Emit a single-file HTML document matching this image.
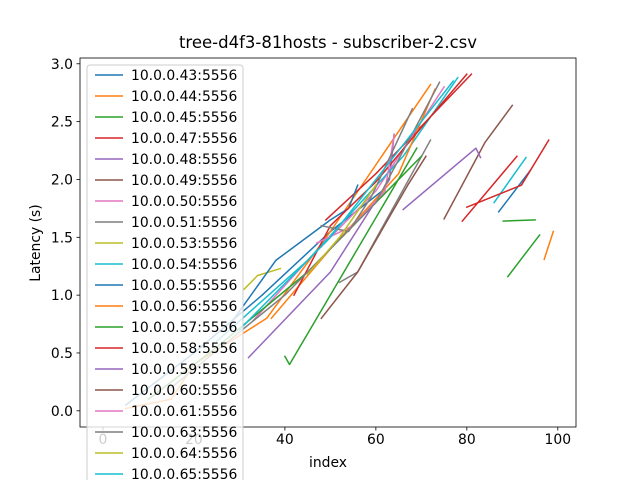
<!DOCTYPE html>
<html><head><meta charset="utf-8"><style>
body{margin:0;background:#fff;}
svg text{font-family:"DejaVu Sans","Liberation Sans",sans-serif;}
</style></head><body>
<svg id="chart" width="640" height="480" viewBox="0 0 640 480" xmlns="http://www.w3.org/2000/svg">
<rect x="0" y="0" width="640" height="480" fill="#fff"/>
<text x="328" y="48" font-size="16.5" text-anchor="middle">tree-d4f3-81hosts - subscriber-2.csv</text>
<g id="plot"></g>
<g id="axes"></g>
<g id="legend"></g>
</svg>
<script>
const seriesNames=["10.0.0.43:5556","10.0.0.44:5556","10.0.0.45:5556","10.0.0.47:5556","10.0.0.48:5556","10.0.0.49:5556","10.0.0.50:5556","10.0.0.51:5556","10.0.0.53:5556","10.0.0.54:5556","10.0.0.55:5556","10.0.0.56:5556","10.0.0.57:5556","10.0.0.58:5556","10.0.0.59:5556","10.0.0.60:5556","10.0.0.61:5556","10.0.0.63:5556","10.0.0.64:5556","10.0.0.65:5556"];
const colors=["#1f77b4","#ff7f0e","#2ca02c","#d62728","#9467bd","#8c564b","#e377c2","#7f7f7f","#bcbd22","#17becf"];
const xTicks=[0,20,40,60,80,100];
const yTicks=[0.0,0.5,1.0,1.5,2.0,2.5,3.0];
const sx=[
 [[5,20,35,50,62],[87,94]],
 [[5,15,20,36,50,72],[97,99]],
 [[40,41,69],[89,96],[88,95]],
 [[49,60,81],[79,91]],
 [[32,50,63,64]],
 [[75,84,90]],
 [[33,45,60,75]],
 [[52,56,72]],
 [[31,34,39]],
 [[25,45,66,78],[86,93]],
 [[28,38,50,54,56]],
 [[37,50,65,73]],
 [[10,25,45,70]],
 [[42,50,60,70,80],[80,92,98]],
 [[66,82,83]],
 [[48,56,67,71]],
 [[47,55,62,64]],
 [[48,54,59,68],[15,40,60,74]],
 [[45,52,60]],
 [[30,50,77]]
];
const sy=[
 [[0.05,0.5,1.0,1.55,1.92],[1.72,2.08]],
 [[0.02,0.1,0.4,0.8,1.55,2.82],[1.31,1.55]],
 [[0.47,0.40,2.27],[1.16,1.52],[1.64,1.65]],
 [[1.65,2.05,2.91],[1.64,2.2]],
 [[0.46,1.2,2.0,2.39]],
 [[1.66,2.32,2.64]],
 [[0.78,1.3,1.9,2.8]],
 [[1.11,1.2,2.34]],
 [[1.05,1.17,1.23]],
 [[0.6,1.3,2.2,2.88],[1.8,2.19]],
 [[0.75,1.3,1.65,1.75,1.95]],
 [[0.8,1.4,2.05,2.78]],
 [[0.1,0.55,1.2,2.2]],
 [[1.0,1.6,1.98,2.45,2.91],[1.76,1.95,2.34]],
 [[1.74,2.27,2.19]],
 [[0.8,1.2,1.95,2.2]],
 [[1.45,1.6,1.9,2.38]],
 [[1.6,1.55,1.85,2.61],[0.2,1.0,1.8,2.84]],
 [[1.18,1.5,1.95]],
 [[0.7,1.5,2.85]]
];
const X0=80,X1=576,Y0=58,Y1=427;
const xMin=-5.05,xMax=104,yMin=-0.14,yMax=3.05;
function xs(i){return X0+(i-xMin)/(xMax-xMin)*(X1-X0);}
function ys(v){return Y1-(v-yMin)/(yMax-yMin)*(Y1-Y0);}
const NS="http://www.w3.org/2000/svg";
function mk(t,a,p){const e=document.createElementNS(NS,t);for(const k in a)e.setAttribute(k,a[k]);p.appendChild(e);return e;}
const plot=document.getElementById('plot');
sx.forEach((segs,s)=>{
 const g=mk('g',{},plot);
 
 
 segs.forEach((xsArr,k)=>{
  const pts=xsArr.map((x,j)=>xs(x).toFixed(1)+','+ys(sy[s][k][j]).toFixed(1)).join(' ');
  const pl=mk('polyline',{points:pts,fill:'none',stroke:colors[s%10],'stroke-width':1.5,'stroke-linejoin':'round','stroke-linecap':'square'},g);
  
  
 });
});
const axes=document.getElementById('axes');
const fr=mk('rect',{x:X0,y:Y0,width:X1-X0,height:Y1-Y0,fill:'none',stroke:'#000','stroke-width':0.8},axes);


xTicks.forEach(t=>{
 const x=xs(t);
 mk('line',{x1:x,y1:Y1,x2:x,y2:Y1+3.5,stroke:'#000','stroke-width':0.8},axes);
 const tx=mk('text',{x:x,y:Y1+17,'font-size':13.9,'text-anchor':'middle'},axes);
 tx.textContent=t;
 
 
});
yTicks.forEach(t=>{
 const y=ys(t);
 mk('line',{x1:X0,y1:y,x2:X0-3.5,y2:y,stroke:'#000','stroke-width':0.8},axes);
 const tx=mk('text',{x:X0-7,y:y+5,'font-size':13.9,'text-anchor':'end'},axes);
 tx.textContent=t.toFixed(1);
 
 
});
const xl=mk('text',{x:328,y:467,'font-size':13.9,'text-anchor':'middle'},axes);
xl.textContent='index';


const yl=mk('text',{x:0,y:0,'font-size':13.9,'text-anchor':'middle',transform:'translate(40,243) rotate(-90)'},axes);
yl.textContent='Latency (s)';


const lg=document.getElementById('legend');
const box=mk('rect',{x:87,y:65,width:156,height:440,rx:3,fill:'rgba(255,255,255,0.8)',stroke:'#ccc','stroke-width':1},lg);


seriesNames.forEach((n,k)=>{
 const y=75+21*k;
 const g=mk('g',{},lg);
 
 
 mk('line',{x1:95,y1:y,x2:123,y2:y,stroke:colors[k%10],'stroke-width':1.5},g);
 const t=mk('text',{x:131,y:y+5,'font-size':13.9},g);
 t.textContent=n;
});
</script>
</body></html>
